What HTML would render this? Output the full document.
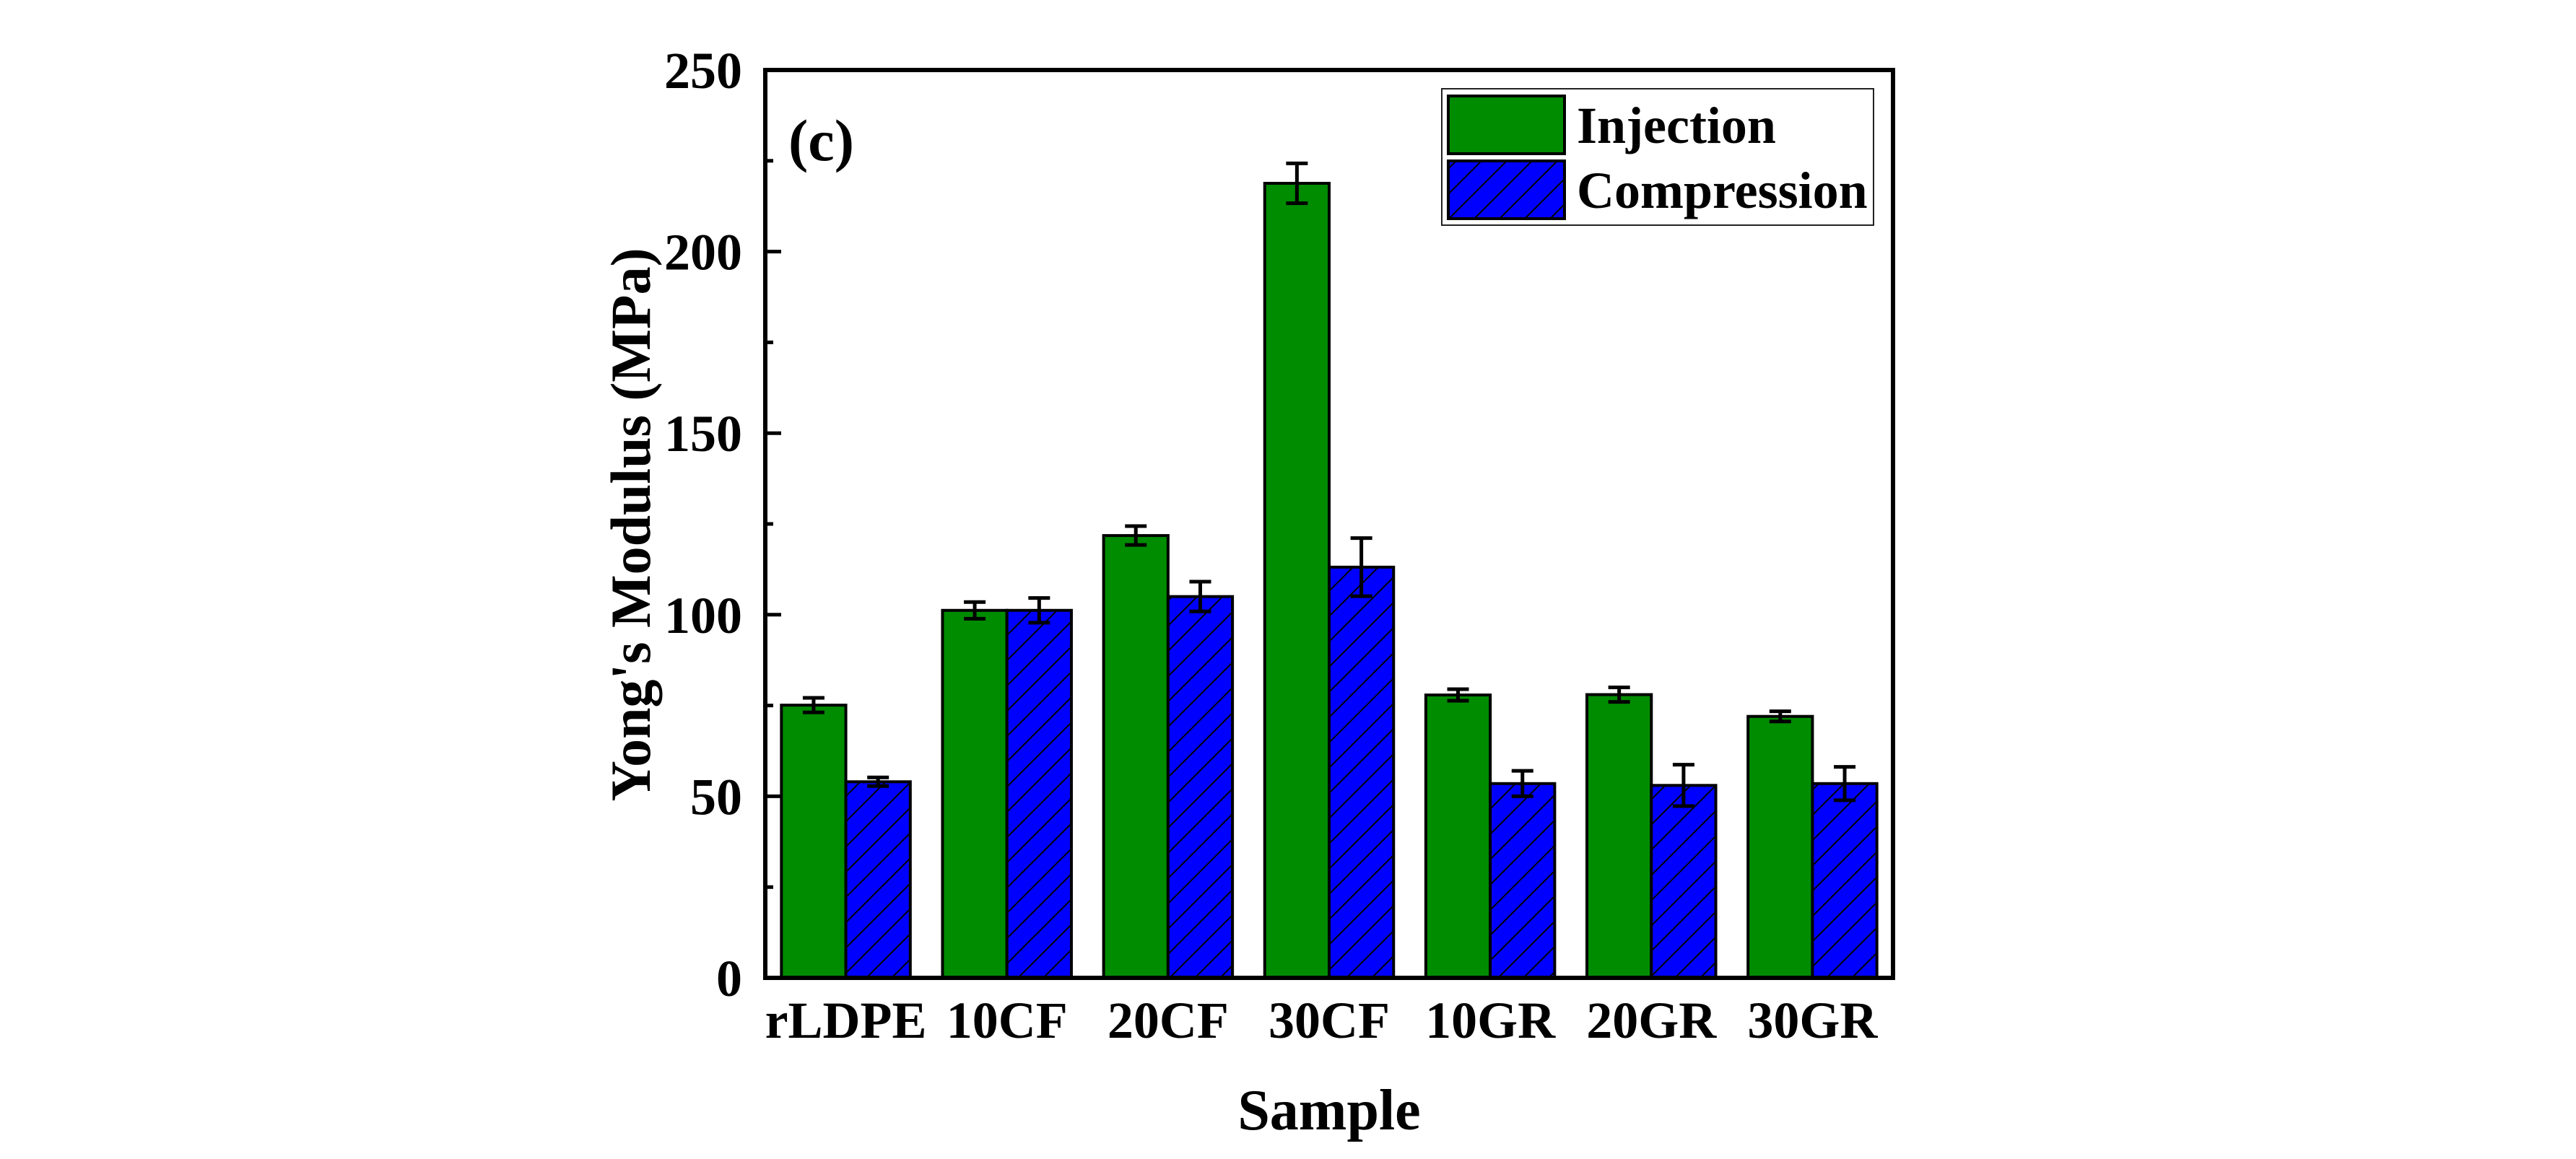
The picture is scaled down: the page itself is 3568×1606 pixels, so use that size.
<!DOCTYPE html>
<html><head><meta charset="utf-8"><style>
html,body{margin:0;padding:0;background:#fff;}
svg{display:block;font-family:"Liberation Serif",serif;font-weight:bold;}
</style></head><body>
<svg id="chart" width="3568" height="1606" viewBox="0 0 3568 1606" xmlns="http://www.w3.org/2000/svg">
<defs>
<pattern id="hatch" patternUnits="userSpaceOnUse" width="35" height="35">
<rect width="35" height="35" fill="#0000ff"/>
<line x1="0" y1="35" x2="35" y2="0" stroke="#000" stroke-width="2"/>
<line x1="-5" y1="5" x2="5" y2="-5" stroke="#000" stroke-width="2"/>
<line x1="30" y1="40" x2="40" y2="30" stroke="#000" stroke-width="2"/>
</pattern>
</defs>
<g id="bars"></g>
<g id="axes"></g>
<text x="1092" y="222" font-size="82">(c)</text>
<g>
<rect x="1997" y="123" width="598" height="189" fill="#fff" stroke="#222" stroke-width="2"/>
<rect x="2006" y="133" width="161" height="80" fill="#008c00" stroke="#000" stroke-width="4"/>
<text x="2184" y="198" font-size="72">Injection</text>
<rect x="2006" y="223" width="161" height="80" fill="url(#hatch)" stroke="#000" stroke-width="4"/>
<text x="2184" y="288" font-size="72">Compression</text>
</g>
<text transform="translate(900,727) rotate(-90)" text-anchor="middle" font-size="78">Yong's Modulus (MPa)</text>
<text x="1841" y="1565" text-anchor="middle" font-size="80">Sample</text>
</svg>
<script>
const categories = ["rLDPE","10CF","20CF","30CF","10GR","20GR","30GR"];
const injection = [75.1, 101.2, 121.8, 218.8, 77.9, 78, 72];
const injectionErr = [2, 2.3, 2.6, 5.5, 1.6, 2, 1.4];
const compression = [54, 101.2, 105, 113.1, 53.5, 53, 53.5];
const compressionErr = [1.2, 3.4, 4.1, 8, 3.5, 5.7, 4.6];
const yTicks = [0, 50, 100, 150, 200, 250];
const yMinorTicks = [25, 75, 125, 175, 225];

const NS = "http://www.w3.org/2000/svg";
const X0 = 1060, X1 = 2622, Y0 = 1355, Y1 = 97, YMAX = 250;
const yScale = v => Y0 - (v / YMAX) * (Y0 - Y1);
const band = (X1 - X0) / categories.length;
const xCenter = i => X0 + band * (i + 0.5);
const barW = band * 0.4;

function mk(tag, attrs, parent) {
  const e = document.createElementNS(NS, tag);
  for (const k in attrs) e.setAttribute(k, attrs[k]);
  parent.appendChild(e);
  return e;
}
const bars = document.getElementById('bars');
const axes = document.getElementById('axes');

function drawBar(i, v, err, isInj) {
  const x = isInj ? xCenter(i) - barW : xCenter(i);
  const y = yScale(v);
  const r = mk('rect', {x: x, y: y, width: barW, height: Y0 - y, fill: isInj ? '#008c00' : 'url(#hatch)', stroke: '#000', 'stroke-width': 4}, bars);
  
  
  const cx = x + barW / 2;
  const g = mk('g', {stroke: '#000', 'stroke-width': 5}, bars);
  
  
  mk('line', {x1: cx, x2: cx, y1: yScale(v + err), y2: yScale(v - err)}, g);
  mk('line', {x1: cx - 15, x2: cx + 15, y1: yScale(v + err), y2: yScale(v + err)}, g);
  mk('line', {x1: cx - 15, x2: cx + 15, y1: yScale(v - err), y2: yScale(v - err)}, g);
}
categories.forEach((c, i) => {
  drawBar(i, injection[i], injectionErr[i], true);
  drawBar(i, compression[i], compressionErr[i], false);
  const t = mk('text', {x: xCenter(i), y: 1438, 'text-anchor': 'middle', 'font-size': 72}, axes);
  
  
  t.textContent = c;
});
const frame = mk('rect', {x: X0, y: Y1, width: X1 - X0, height: Y0 - Y1, fill: 'none', stroke: '#000', 'stroke-width': 6}, axes);


yTicks.forEach(v => {
  const l = mk('line', {x1: X0, x2: X0 + 22, y1: yScale(v), y2: yScale(v), stroke: '#000', 'stroke-width': 5}, axes);
  
  
  const t = mk('text', {x: 1028, y: yScale(v) + 25, 'text-anchor': 'end', 'font-size': 72}, axes);
  
  
  t.textContent = v;
});
yMinorTicks.forEach(v => {
  const l = mk('line', {x1: X0, x2: X0 + 11, y1: yScale(v), y2: yScale(v), stroke: '#000', 'stroke-width': 5}, axes);
  
  
});
</script>
</body></html>
